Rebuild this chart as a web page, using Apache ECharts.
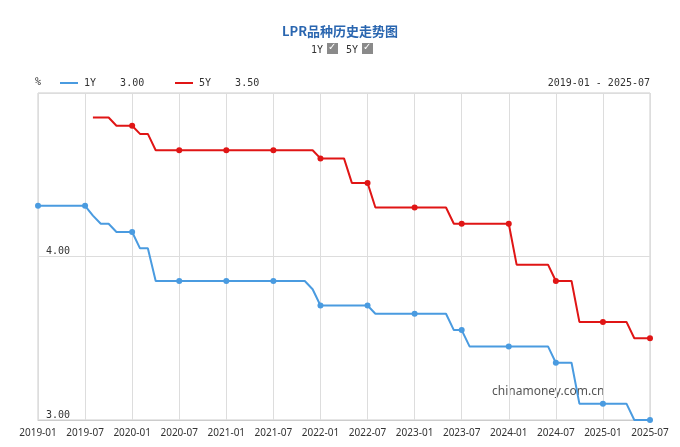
<!DOCTYPE html>
<html><head><meta charset="utf-8">
<script src="https://cdn.jsdelivr.net/npm/echarts@6/dist/echarts.min.js"></script>
<style>html,body{margin:0;background:#fff}#c{width:680px;height:447px}</style>
</head><body><div id="c"></div>
<script>
// monthly LPR, 2019-01 .. 2025-07
const months = [];
for (let y = 2019; y <= 2025; y++) for (let m = 1; m <= 12; m++) {
  if (y === 2025 && m > 7) break;
  months.push(y + '-' + String(m).padStart(2, '0'));
}
const lpr1y = [
  4.31,4.31,4.31,4.31,4.31,4.31,4.31,4.25,4.20,4.20,4.15,4.15,
  4.15,4.05,4.05,3.85,3.85,3.85,3.85,3.85,3.85,3.85,3.85,3.85,
  3.85,3.85,3.85,3.85,3.85,3.85,3.85,3.85,3.85,3.85,3.85,3.80,
  3.70,3.70,3.70,3.70,3.70,3.70,3.70,3.65,3.65,3.65,3.65,3.65,
  3.65,3.65,3.65,3.65,3.65,3.55,3.55,3.45,3.45,3.45,3.45,3.45,
  3.45,3.45,3.45,3.45,3.45,3.45,3.35,3.35,3.35,3.10,3.10,3.10,
  3.10,3.10,3.10,3.10,3.00,3.00,3.00
];
const lpr5y = [
  null,null,null,null,null,null,null,4.85,4.85,4.85,4.80,4.80,
  4.80,4.75,4.75,4.65,4.65,4.65,4.65,4.65,4.65,4.65,4.65,4.65,
  4.65,4.65,4.65,4.65,4.65,4.65,4.65,4.65,4.65,4.65,4.65,4.65,
  4.60,4.60,4.60,4.60,4.45,4.45,4.45,4.30,4.30,4.30,4.30,4.30,
  4.30,4.30,4.30,4.30,4.30,4.20,4.20,4.20,4.20,4.20,4.20,4.20,
  4.20,3.95,3.95,3.95,3.95,3.95,3.85,3.85,3.85,3.60,3.60,3.60,
  3.60,3.60,3.60,3.60,3.50,3.50,3.50
];
const yTicks = [3, 4, 5];

const chart = echarts.init(document.getElementById('c'));
const dotAt = (v, p) => (p.dataIndex % 6 === 0 ? 6 : 0);
const font = 'DejaVu Sans Mono, monospace';
chart.setOption({
  animation: false,
  title: { text: 'LPR品种历史走势图', left: 'center', top: 20,
    textStyle: { color: '#2a66b0', fontSize: 13, fontWeight: 'bold', fontFamily: 'Noto Sans CJK SC' } },
  grid: { left: 38, right: 30, top: 93, bottom: 27, show: true, borderColor: '#ccc' },
  xAxis: {
    type: 'category', data: months, boundaryGap: false,
    axisLine: { lineStyle: { color: '#ccc' } }, axisTick: { show: false },
    axisLabel: { interval: 5, color: '#333', fontSize: 10, fontFamily: 'Noto Sans' },
    splitLine: { show: true, interval: 5, lineStyle: { color: '#ddd' } }
  },
  yAxis: {
    type: 'value', min: yTicks[0], max: yTicks[2], interval: 1,
    axisLine: { show: false }, axisTick: { show: false },
    axisLabel: { inside: true, color: '#333', fontSize: 10, fontFamily: font, verticalAlign: 'bottom',
      formatter: v => v === 5 ? '' : v.toFixed(2) },
    splitLine: { lineStyle: { color: '#ddd' } }
  },
  series: [
    { name: '1Y', type: 'line', data: lpr1y, color: '#4a9be0', symbol: 'circle',
      symbolSize: dotAt, showAllSymbol: true, lineStyle: { width: 2 } },
    { name: '5Y', type: 'line', data: lpr5y, color: '#e01515', symbol: 'circle',
      symbolSize: dotAt, showAllSymbol: true, lineStyle: { width: 2 } }
  ],
  graphic: [
    { type: 'text', left: 311, top: 45, style: { text: '1Y', font: '10px ' + font, fill: '#333' } },
    { type: 'rect', left: 327, top: 43, shape: { width: 11, height: 11 }, style: { fill: '#8a8a8a' } },
    { type: 'text', left: 328, top: 42, style: { text: '✓', font: 'bold 10px DejaVu Sans', fill: '#fff' } },
    { type: 'text', left: 346, top: 45, style: { text: '5Y', font: '10px ' + font, fill: '#333' } },
    { type: 'rect', left: 362, top: 43, shape: { width: 11, height: 11 }, style: { fill: '#8a8a8a' } },
    { type: 'text', left: 363, top: 42, style: { text: '✓', font: 'bold 10px DejaVu Sans', fill: '#fff' } },
    { type: 'text', left: 35, top: 77, style: { text: '%', font: '10px ' + font, fill: '#333' } },
    { type: 'line', shape: { x1: 60, y1: 83, x2: 78, y2: 83 }, style: { stroke: '#4a9be0', lineWidth: 2 } },
    { type: 'text', left: 84, top: 78, style: { text: '1Y    3.00', font: '10px ' + font, fill: '#333' } },
    { type: 'line', shape: { x1: 175, y1: 83, x2: 193, y2: 83 }, style: { stroke: '#e01515', lineWidth: 2 } },
    { type: 'text', left: 199, top: 78, style: { text: '5Y    3.50', font: '10px ' + font, fill: '#333' } },
    { type: 'text', right: 30, top: 78, style: { text: '2019-01 - 2025-07', font: '10px ' + font, fill: '#333' } },
    { type: 'text', left: 492, top: 386, style: { text: 'chinamoney.com.cn', font: '12px Noto Sans', fill: '#555' } }
  ]
});
</script></body></html>
